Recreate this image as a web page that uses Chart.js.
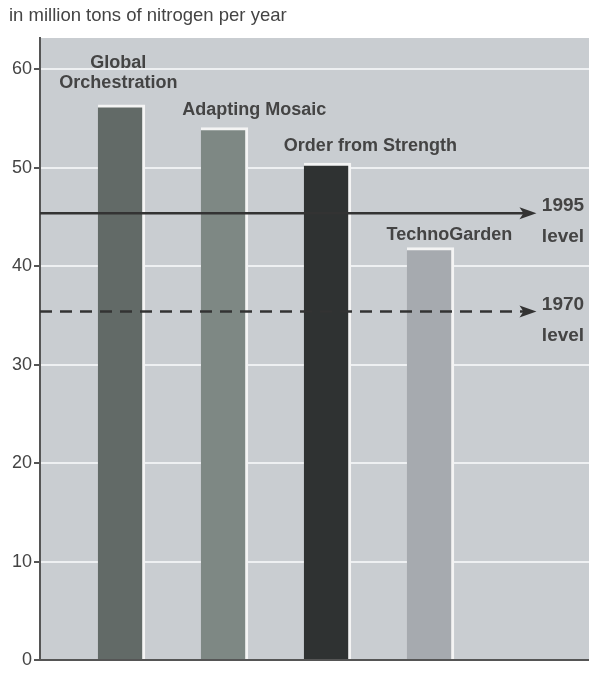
<!DOCTYPE html>
<html>
<head>
<meta charset="utf-8">
<script src="https://cdn.jsdelivr.net/npm/chart.js@4"></script>
<style>
  html, body { margin: 0; padding: 0; background: #fff; }
  #wrap { width: 589px; height: 673px; }
</style>
</head>
<body>
<div id="wrap"><canvas id="myChart" width="589" height="673"></canvas></div>
<script>
// data
var scenarios = [['Global', 'Orchestration'], ['Adapting Mosaic'], ['Order from Strength'], ['TechnoGarden']];
var nitrogen = [56.4, 54.1, 50.5, 41.9];
var refNames = [['1995', 'level'], ['1970', 'level']];
var refValues = [45.4, 35.4];
var yTicks = [0, 10, 20, 30, 40, 50, 60];

// styling
var barColors = ['#626a67', '#7e8884', '#2f3232', '#a6aaaf'];
var labelDx = [-3, 30, 43, 19];
var labelDy = [22, 18, 17, 13];
var textColor = '#444';
var xMin = -0.79, xMax = 4.54, arrowX = 4.03;

var barData = nitrogen.map(function (v, i) { return { x: i, y: v }; });

var plotBg = {
  id: 'plotBg',
  beforeDraw: function (chart) {
    var a = chart.chartArea, c = chart.ctx;
    c.save();
    c.fillStyle = '#c9cdd1';
    c.fillRect(a.left, a.top, a.right - a.left, a.bottom - a.top);
    c.fillStyle = textColor;
    c.font = '18.5px "Liberation Sans", Arial, sans-serif';
    c.textBaseline = 'alphabetic';
    c.fillText('in million tons of nitrogen per year', 9, 21);
    c.restore();
  }
};

var labels = {
  id: 'labels',
  afterDraw: function (chart) {
    var c = chart.ctx, xs = chart.scales.x, ys = chart.scales.y;
    c.save();
    c.fillStyle = textColor;
    c.font = 'bold 18px "Liberation Sans", Arial, sans-serif';
    c.textAlign = 'center';
    c.textBaseline = 'middle';
    scenarios.forEach(function (lines, i) {
      var x = xs.getPixelForValue(i) + labelDx[i];
      var y = ys.getPixelForValue(nitrogen[i]) - labelDy[i];
      for (var k = lines.length - 1; k >= 0; k--) {
        c.fillText(lines[k], x, y - (lines.length - 1 - k) * 20);
      }
    });
    // arrowheads and level labels
    refValues.forEach(function (v, i) {
      var tx = xs.getPixelForValue(arrowX), ty = ys.getPixelForValue(v);
      c.fillStyle = '#333';
      c.beginPath();
      c.moveTo(tx, ty);
      c.lineTo(tx - 17, ty - 6);
      c.lineTo(tx - 13, ty);
      c.lineTo(tx - 17, ty + 6);
      c.closePath();
      c.fill();
      c.fillStyle = textColor;
      c.font = 'bold 19px "Liberation Sans", Arial, sans-serif';
      c.fillText(refNames[i][0], 563, ty - 7);
      c.fillText(refNames[i][1], 563, ty + 24);
    });
    c.restore();
  }
};

var ctx = document.getElementById('myChart').getContext('2d');
var myChart = new Chart(ctx, {
  type: 'bar',
  data: {
    datasets: [
      {
        type: 'line',
        data: [{ x: xMin, y: refValues[0] }, { x: arrowX - 0.05, y: refValues[0] }],
        borderColor: '#333', borderWidth: 2.5, pointRadius: 0, order: 0
      },
      {
        type: 'line',
        data: [{ x: xMin, y: refValues[1] }, { x: arrowX - 0.05, y: refValues[1] }],
        borderColor: '#333', borderWidth: 2.5, borderDash: [12, 8], pointRadius: 0, order: 0
      },
      {
        data: barData,
        backgroundColor: barColors,
        borderColor: '#f4f4f4',
        borderWidth: { top: 3, right: 3, left: 0, bottom: 0 },
        borderSkipped: false,
        barThickness: 47,
        order: 1
      }
    ]
  },
  options: {
    responsive: false,
    animation: false,
    layout: { padding: { top: 38, left: 0, right: 0, bottom: 0 } },
    plugins: { legend: { display: false }, tooltip: { enabled: false } },
    scales: {
      x: {
        type: 'linear', min: xMin, max: xMax, offset: false,
        ticks: { display: false },
        grid: { display: false, drawTicks: false, offset: false },
        border: { display: true, color: '#555', width: 2 },
        afterFit: function (s) { s.height = 13; }
      },
      y: {
        min: 0, max: 63.2,
        afterBuildTicks: function (s) { s.ticks = yTicks.map(function (v) { return { value: v }; }); },
        ticks: { color: textColor, font: { size: 18, family: '"Liberation Sans", Arial, sans-serif' }, padding: 2 },
        grid: { color: '#eef0f2', lineWidth: 2, tickColor: '#555', tickLength: 6, tickWidth: 2 },
        border: { display: true, color: '#555', width: 2 },
        afterFit: function (s) { s.width = 40; }
      }
    }
  },
  plugins: [plotBg, labels]
});
</script>
</body>
</html>
